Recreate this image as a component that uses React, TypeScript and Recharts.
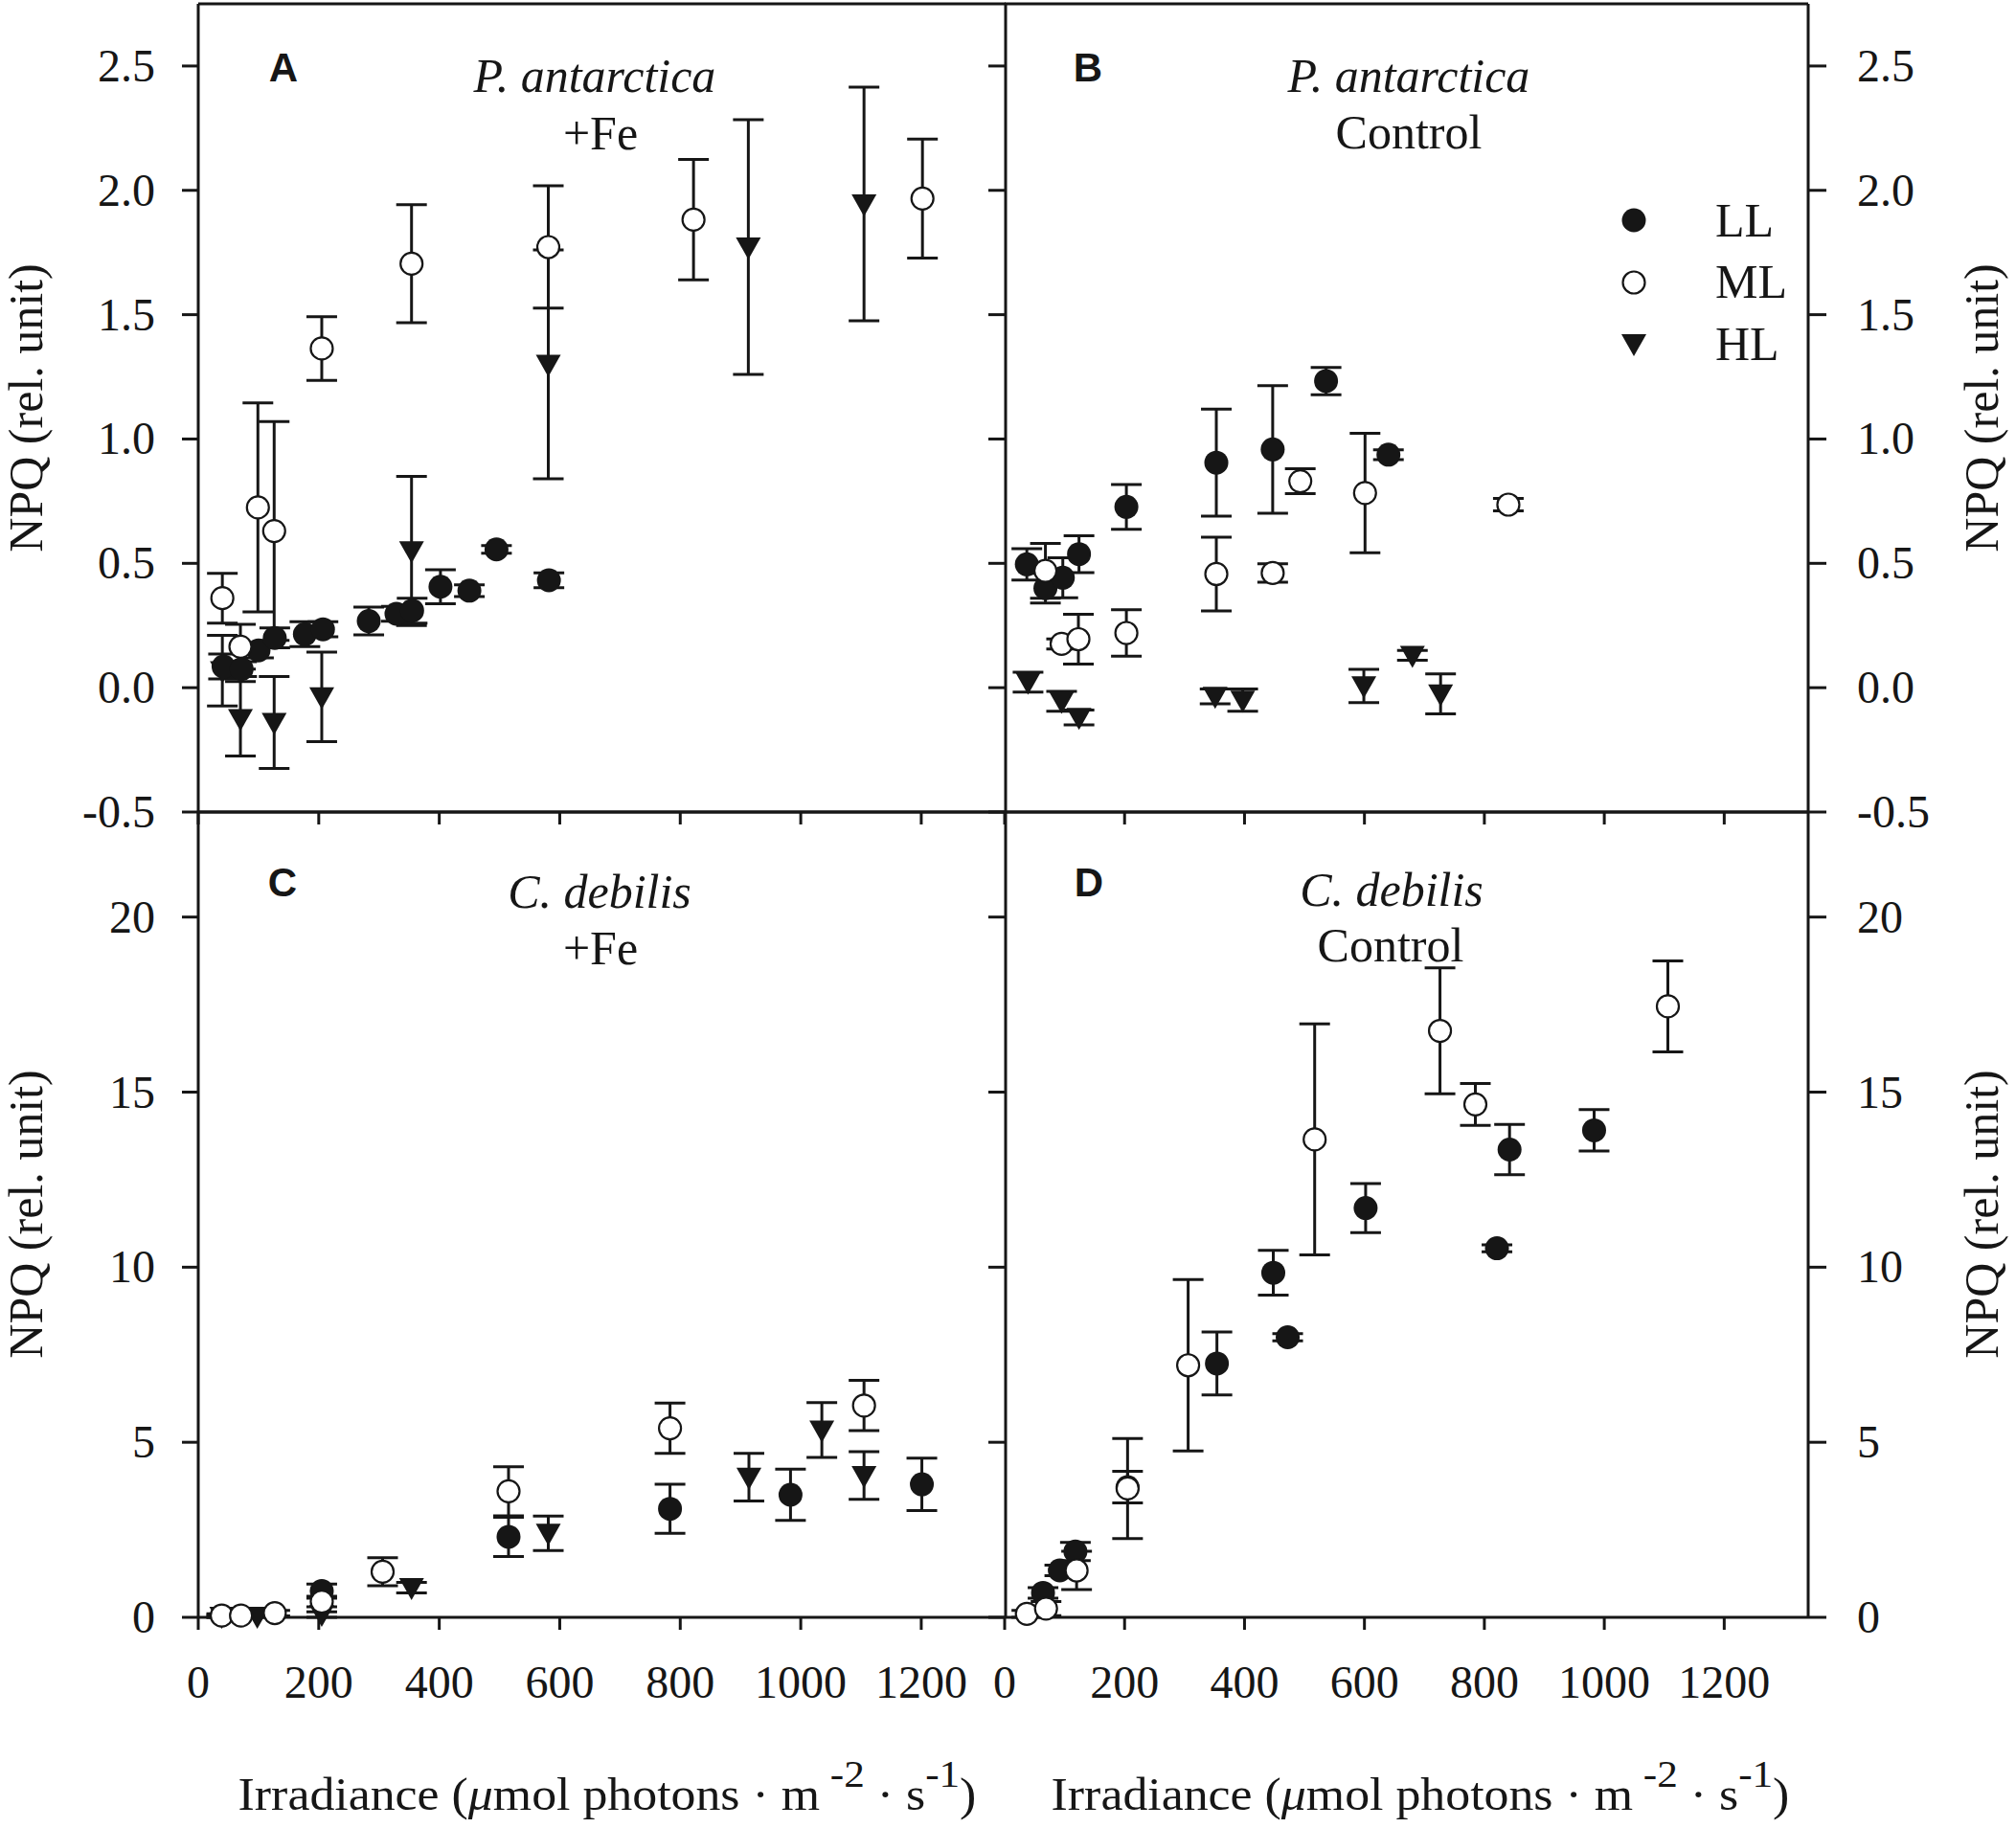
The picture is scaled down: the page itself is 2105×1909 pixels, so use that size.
import React from "react";
import { ScatterChart, Scatter, XAxis, YAxis, ErrorBar } from "recharts";

const W = 2105;
const H = 1909;
const INK = "#161616";
const SERIF = '"Liberation Serif", "Times New Roman", serif';
const SANS = '"Liberation Sans", Arial, sans-serif';

// tick values
const xTicks = [0, 200, 400, 600, 800, 1000, 1200];
const npqTicksP = [-0.5, 0, 0.5, 1, 1.5, 2, 2.5];
const npqTicksC = [0, 5, 10, 15, 20];
const seriesNames = ["LL", "ML", "HL"];

// rows: [irradiance, NPQ, error]
type Row = [number, number, number];

// A: P. antarctica +Fe
const aLL: Row[] = [
  [42, 0.085, 0.05], [72, 0.075, 0.03], [100, 0.15, 0.03], [127, 0.2, 0.04],
  [177, 0.215, 0.05], [207, 0.235, 0.03], [283, 0.268, 0.056], [329, 0.297, 0.03],
  [355, 0.31, 0.05], [402, 0.406, 0.068], [450, 0.39, 0.024], [495, 0.556, 0.015],
  [582, 0.432, 0.03],
];
const aML: Row[] = [
  [40, 0.36, 0.1], [70, 0.165, 0.09], [99, 0.725, 0.42], [126, 0.63, 0.44],
  [205, 1.364, 0.128], [354, 1.705, 0.237], [581, 1.772, 0.246], [822, 1.882, 0.242],
  [1202, 1.967, 0.239],
];
const aHL: Row[] = [
  [40, 0.068, 0.142], [70, -0.125, 0.15], [126, -0.14, 0.185], [205, -0.037, 0.18],
  [354, 0.55, 0.3], [581, 1.3, 0.46], [913, 1.772, 0.512], [1105, 1.945, 0.47],
];

// B: P. antarctica Control
const bLL: Row[] = [
  [37, 0.496, 0.063], [68, 0.4, 0.06], [97, 0.442, 0.08], [124, 0.537, 0.074],
  [203, 0.727, 0.09], [353, 0.905, 0.215], [447, 0.958, 0.257], [536, 1.233, 0.055],
  [640, 0.937, 0.02],
];
const bML: Row[] = [
  [68, 0.47, 0.11], [95, 0.176, 0.02], [123, 0.195, 0.1], [203, 0.22, 0.093],
  [353, 0.457, 0.148], [447, 0.461, 0.037], [493, 0.83, 0.05], [601, 0.783, 0.24],
  [840, 0.736, 0.025],
];
const bHL: Row[] = [
  [39, 0.022, 0.04], [95, -0.055, 0.04], [124, -0.12, 0.03], [351, -0.035, 0.03],
  [397, -0.05, 0.045], [599, 0.007, 0.067], [680, 0.13, 0.02], [727, -0.025, 0.08],
];

// C: C. debilis +Fe
const cLL: Row[] = [
  [205, 0.75, 0.2], [515, 2.3, 0.56], [783, 3.1, 0.7], [983, 3.5, 0.73], [1201, 3.8, 0.75],
];
const cML: Row[] = [
  [39, 0.05, 0.05], [71, 0.05, 0.05], [127, 0.12, 0.08], [205, 0.45, 0.15],
  [306, 1.3, 0.4], [515, 3.6, 0.7], [783, 5.4, 0.72], [1105, 6.05, 0.72],
];
const cHL: Row[] = [
  [39, 0.03, 0.03], [98, 0.03, 0.03], [205, 0.08, 0.08], [354, 0.85, 0.15],
  [581, 2.4, 0.49], [914, 4.0, 0.68], [1035, 5.35, 0.78], [1105, 4.05, 0.68],
];

// D: C. debilis Control
const dLL: Row[] = [
  [64, 0.7, 0.15], [92, 1.34, 0.15], [118, 1.88, 0.26], [205, 3.72, 0.45],
  [354, 7.25, 0.9], [448, 9.84, 0.64], [472, 8.0, 0.1], [602, 11.69, 0.7],
  [821, 10.54, 0.1], [842, 13.36, 0.72], [983, 13.91, 0.59],
];
const dML: Row[] = [
  [37, 0.1, 0.1], [69, 0.25, 0.2], [120, 1.34, 0.55], [205, 3.68, 1.43],
  [306, 7.2, 2.45], [517, 13.65, 3.3], [726, 16.75, 1.8], [785, 14.65, 0.6],
  [1106, 17.45, 1.3],
];
const dHL: Row[] = [];

const pts = (rows: Row[]) => rows.map(([x, y, e]) => ({ x, y, e }));

const line = { stroke: INK, strokeWidth: 3 };

// symbols
const Dot = (p: any) => <circle cx={p.cx} cy={p.cy} r={12.5} fill={INK} />;
const Ring = (p: any) => (
  <circle cx={p.cx} cy={p.cy} r={11.5} fill="#fff" stroke={INK} strokeWidth={2.2} />
);
const Tri = (p: any) => (
  <path
    d={`M${p.cx - 13},${p.cy - 10} L${p.cx + 13},${p.cy - 10} L${p.cx},${p.cy + 13} Z`}
    fill={INK}
  />
);
const shapes: Record<string, any> = { LL: Dot, ML: Ring, HL: Tri };

const NoLabel = () => <g />;

const XTick = (p: any) => (
  <text x={p.x} y={p.y} dy={33} textAnchor="middle" fontFamily={SERIF} fontSize={48} fill={INK}>
    {p.payload.value}
  </text>
);

const makeYTick = (fmt: (v: number) => string) => (p: any) => (
  <text x={p.x} y={p.y} dy={16} textAnchor={p.textAnchor} fontFamily={SERIF} fontSize={48} fill={INK}>
    {fmt(p.payload.value)}
  </text>
);

const fmtP = (v: number) => v.toFixed(1);
const fmtC = (v: number) => String(v);

const NpqTitle = ({ x, cy }: { x: number; cy: number }) => (
  <text
    transform={`translate(${x},${cy}) rotate(-90)`}
    textAnchor="middle"
    fontFamily={SERIF}
    fontSize={50}
    fill={INK}
  >
    NPQ (rel. unit)
  </text>
);

const IrrTitle = ({ cx }: { cx: number }) => (
  <text
    transform={`translate(${cx},1890) scale(1.08,1)`}
    textAnchor="middle"
    fontFamily={SERIF}
    fontSize={48}
    fill={INK}
  >
    Irradiance (<tspan fontStyle="italic">μ</tspan>mol photons · m
    <tspan dy={-24} fontSize={40}> -2</tspan>
    <tspan dy={24}> · s</tspan>
    <tspan dy={-24} fontSize={40}>-1</tspan>
    <tspan dy={24}>)</tspan>
  </text>
);

const PanelText = ({
  letter, lx, ly, t1, t2, cx1, cx2, b1, b2,
}: {
  letter: string; lx: number; ly: number; t1: string; t2: string;
  cx1: number; cx2: number; b1: number; b2: number;
}) => (
  <g fill={INK}>
    <text x={lx} y={ly} textAnchor="middle" fontFamily={SANS} fontWeight="bold" fontSize={42}>
      {letter}
    </text>
    <text x={cx1} y={b1} textAnchor="middle" fontFamily={SERIF} fontStyle="italic" fontSize={50}>
      {t1}
    </text>
    <text x={cx2} y={b2} textAnchor="middle" fontFamily={SERIF} fontSize={50}>
      {t2}
    </text>
  </g>
);

const legendRows = [
  { cy: 230, base: 247 },
  { cy: 295, base: 311 },
  { cy: 359, base: 376 },
];

const LegendBox = () => (
  <g>
    {seriesNames.map((n, i) => {
      const S = shapes[n];
      return (
        <g key={n}>
          <S cx={1706} cy={legendRows[i].cy} />
          <text x={1791} y={legendRows[i].base} fontFamily={SERIF} fontSize={50} fill={INK}>
            {n}
          </text>
        </g>
      );
    })}
  </g>
);

type PanelProps = {
  col: "L" | "R";
  row: "T" | "B";
  ll: Row[];
  ml: Row[];
  hl: Row[];
  yDomain: [number, number];
  yTicks: number[];
  fmt: (v: number) => string;
  children?: React.ReactNode;
};

function Panel({ col, row, ll, ml, hl, yDomain, yTicks, fmt, children }: PanelProps) {
  const left = col === "L";
  const top = row === "T";
  const margin = {
    top: top ? 3 : 847,
    bottom: top ? 1060 : 20,
    left: left ? 0 : 1049,
    right: left ? 1055 : 0,
  };
  const series: [string, Row[]][] = [
    ["HL", hl],
    ["LL", ll],
    ["ML", ml],
  ];
  return (
    <div style={{ position: "absolute", left: 0, top: 0 }}>
      <ScatterChart width={W} height={H} margin={margin}>
        <XAxis
          dataKey="x"
          type="number"
          domain={[0, 1340]}
          ticks={xTicks}
          interval={0}
          height={top ? 1 : 200}
          tickSize={13}
          tickMargin={38}
          tickLine={line}
          axisLine={line}
          tick={top ? NoLabel : XTick}
        />
        <XAxis
          xAxisId="t"
          orientation="top"
          type="number"
          domain={[0, 1340]}
          allowDataOverflow
          height={1}
          tick={false}
          tickLine={false}
          axisLine={line}
        />
        <YAxis
          dataKey="y"
          type="number"
          domain={yDomain}
          ticks={yTicks}
          interval={0}
          orientation={left ? "left" : "right"}
          width={left ? 207 : 217}
          tickSize={left ? 17 : 19}
          tickMargin={left ? 28 : 32}
          tickLine={line}
          axisLine={line}
          tick={makeYTick(fmt)}
        />
        {left && (
          <YAxis
            yAxisId="m"
            orientation="right"
            mirror
            type="number"
            domain={yDomain}
            allowDataOverflow
            ticks={yTicks}
            interval={0}
            width={1}
            tickSize={18}
            tickLine={line}
            axisLine={line}
            tick={NoLabel}
          />
        )}
        {series
          .filter(([, rows]) => rows.length > 0)
          .map(([name, rows]) => (
            <Scatter key={name} name={name} data={pts(rows)} shape={shapes[name]} isAnimationActive={false}>
              <ErrorBar
                dataKey="e"
                direction="y"
                width={16}
                stroke={INK}
                strokeWidth={3}
                isAnimationActive={false}
              />
            </Scatter>
          ))}
        {children}
      </ScatterChart>
    </div>
  );
}

export default function App() {
  return (
    <div style={{ position: "absolute", left: 0, top: 0, width: W, height: H, background: "#fff" }}>
      <Panel col="L" row="T" ll={aLL} ml={aML} hl={aHL} yDomain={[-0.5, 2.75]} yTicks={npqTicksP} fmt={fmtP}>
        <PanelText letter="A" lx={296} ly={85} t1="P. antarctica" t2="+Fe" cx1={621} cx2={627} b1={96} b2={156} />
        <NpqTitle x={44} cy={426} />
      </Panel>
      <Panel col="R" row="T" ll={bLL} ml={bML} hl={bHL} yDomain={[-0.5, 2.75]} yTicks={npqTicksP} fmt={fmtP}>
        <PanelText letter="B" lx={1136} ly={85} t1="P. antarctica" t2="Control" cx1={1471} cx2={1471} b1={96} b2={155} />
        <LegendBox />
        <NpqTitle x={2086} cy={426} />
      </Panel>
      <Panel col="L" row="B" ll={cLL} ml={cML} hl={cHL} yDomain={[0, 23]} yTicks={npqTicksC} fmt={fmtC}>
        <PanelText letter="C" lx={295} ly={936} t1="C. debilis" t2="+Fe" cx1={626} cx2={627} b1={948} b2={1007} />
        <NpqTitle x={44} cy={1268} />
        <IrrTitle cx={634} />
      </Panel>
      <Panel col="R" row="B" ll={dLL} ml={dML} hl={dHL} yDomain={[0, 23]} yTicks={npqTicksC} fmt={fmtC}>
        <PanelText letter="D" lx={1137} ly={936} t1="C. debilis" t2="Control" cx1={1453} cx2={1452} b1={946} b2={1004} />
        <NpqTitle x={2086} cy={1268} />
        <IrrTitle cx={1483} />
      </Panel>
    </div>
  );
}
